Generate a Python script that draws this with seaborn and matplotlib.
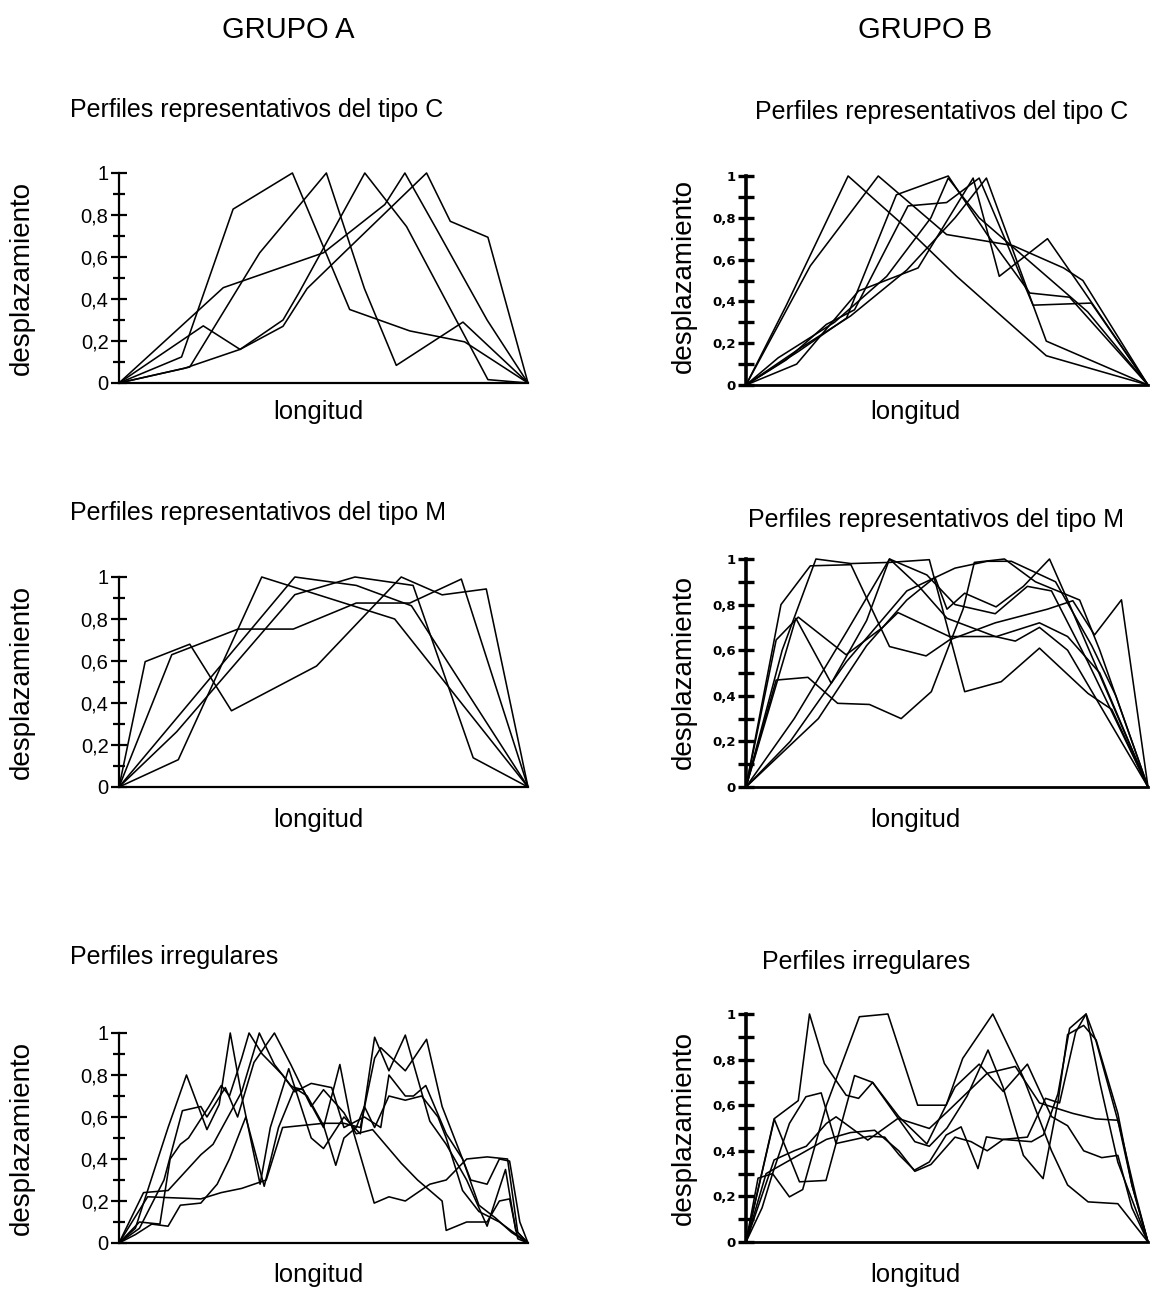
import pandas as pd
import matplotlib
matplotlib.use('Agg')
import matplotlib.pyplot as plt
import seaborn as sns
from matplotlib.ticker import MultipleLocator, FuncFormatter

sns.set_style("white")
plt.rcParams['font.family'] = ['Liberation Sans', 'DejaVu Sans']
plt.rcParams['text.color'] = 'black'
plt.rcParams['ytick.color'] = 'black'
plt.rcParams['ytick.labelcolor'] = 'black'

# --- profile data: each profile is a list of (longitud, desplazamiento) ---
grupo_a_tipo_c = [
    [(0, 0), (0.153, 0.124), (0.279, 0.828), (0.424, 1.0), (0.564, 0.35), (0.711, 0.248), (0.845, 0.196), (1, 0)],
    [(0, 0), (0.173, 0.076), (0.344, 0.62), (0.507, 1.0), (0.60, 0.45), (0.678, 0.084), (0.841, 0.29), (1, 0)],
    [(0, 0), (0.206, 0.272), (0.296, 0.16), (0.401, 0.30), (0.44, 0.43), (0.601, 1.0), (0.703, 0.745), (0.902, 0.016), (1, 0)],
    [(0, 0), (0.255, 0.454), (0.50, 0.62), (0.65, 0.85), (0.699, 1.0), (0.78, 0.72), (0.90, 0.30), (1, 0)],
    [(0, 0), (0.16, 0.07), (0.296, 0.16), (0.401, 0.27), (0.46, 0.45), (0.55, 0.62), (0.752, 1.0), (0.81, 0.77), (0.902, 0.694), (1, 0)],
]

grupo_b_tipo_c = [
    [(0, 0), (0.10, 0.38), (0.254, 1.0), (0.40, 0.75), (0.524, 0.52), (0.747, 0.14), (1, 0)],
    [(0, 0), (0.16, 0.57), (0.329, 1.0), (0.499, 0.72), (0.664, 0.667), (0.79, 0.56), (0.838, 0.50), (1, 0)],
    [(0, 0), (0.126, 0.10), (0.28, 0.45), (0.428, 0.56), (0.565, 0.99), (0.63, 0.52), (0.75, 0.70), (0.84, 0.45), (1, 0)],
    [(0, 0), (0.13, 0.16), (0.25, 0.32), (0.374, 0.91), (0.503, 1.0), (0.60, 0.72), (0.706, 0.44), (0.805, 0.42), (1, 0)],
    [(0, 0), (0.10, 0.12), (0.20, 0.29), (0.27, 0.36), (0.403, 0.857), (0.499, 0.873), (0.58, 0.99), (0.714, 0.382), (0.859, 0.392), (1, 0)],
    [(0, 0), (0.13, 0.17), (0.26, 0.33), (0.40, 0.55), (0.52, 0.80), (0.598, 0.99), (0.747, 0.21), (1, 0)],
    [(0, 0), (0.08, 0.13), (0.22, 0.30), (0.35, 0.52), (0.46, 0.80), (0.503, 0.99), (0.58, 0.80), (0.70, 0.60), (0.85, 0.35), (1, 0)],
]

grupo_a_tipo_m = [
    [(0, 0), (0.064, 0.597), (0.173, 0.68), (0.275, 0.363), (0.483, 0.576), (0.69, 1.0), (0.79, 0.915), (0.898, 0.943), (1, 0)],
    [(0, 0), (0.129, 0.63), (0.291, 0.752), (0.426, 0.752), (0.58, 0.876), (0.711, 0.876), (0.837, 0.99), (1, 0)],
    [(0, 0), (0.145, 0.13), (0.349, 1.0), (0.674, 0.80), (1, 0)],
    [(0, 0), (0.141, 0.263), (0.43, 0.916), (0.577, 1.0), (0.719, 0.96), (0.866, 0.139), (1, 0)],
    [(0, 0), (0.43, 1.0), (0.58, 0.96), (0.715, 0.863), (1, 0)],
]

grupo_b_tipo_m = [
    [(0, 0), (0.075, 0.469), (0.154, 0.481), (0.228, 0.367), (0.307, 0.362), (0.386, 0.30), (0.461, 0.418), (0.54, 0.78),
     (0.568, 0.985), (0.643, 1.0), (0.72, 0.90), (0.83, 0.82), (0.88, 0.60), (1, 0)],
    [(0, 0), (0.09, 0.60), (0.174, 1.0), (0.261, 0.98), (0.357, 0.985), (0.456, 0.997), (0.544, 0.418), (0.635, 0.462),
     (0.73, 0.609), (0.851, 0.41), (0.91, 0.34), (1, 0)],
    [(0, 0), (0.087, 0.80), (0.16, 0.97), (0.261, 0.975), (0.357, 0.616), (0.448, 0.575), (0.506, 0.645), (0.62, 0.72),
     (0.75, 0.78), (0.813, 0.817), (0.867, 0.667), (0.934, 0.821), (1, 0)],
    [(0, 0), (0.124, 0.74), (0.212, 0.455), (0.30, 0.73), (0.357, 1.0), (0.43, 0.88), (0.50, 0.74), (0.62, 0.66),
     (0.67, 0.64), (0.73, 0.70), (0.80, 0.60), (1, 0)],
    [(0, 0), (0.075, 0.645), (0.13, 0.745), (0.249, 0.58), (0.34, 0.70), (0.378, 0.765), (0.506, 0.66), (0.623, 0.66),
     (0.73, 0.72), (0.80, 0.66), (0.88, 0.50), (1, 0)],
    [(0, 0), (0.12, 0.30), (0.25, 0.68), (0.357, 1.0), (0.45, 0.93), (0.52, 0.80), (0.62, 0.76), (0.70, 0.88),
     (0.76, 0.86), (0.85, 0.55), (1, 0)],
    [(0, 0), (0.18, 0.30), (0.30, 0.62), (0.40, 0.82), (0.47, 0.92), (0.50, 0.78), (0.544, 0.85), (0.622, 0.79),
     (0.69, 0.88), (0.755, 1.0), (0.80, 0.82), (1, 0)],
    [(0, 0), (0.11, 0.20), (0.25, 0.55), (0.40, 0.86), (0.52, 0.96), (0.60, 0.99), (0.66, 0.99), (0.77, 0.90),
     (0.86, 0.62), (0.92, 0.40), (1, 0)],
]

grupo_a_irregular = [
    [(0, 0), (0.04, 0.07), (0.12, 0.55), (0.165, 0.80), (0.215, 0.54), (0.245, 0.66), (0.272, 1.0), (0.30, 0.70),
     (0.345, 0.28), (0.37, 0.55), (0.415, 0.83), (0.47, 0.50), (0.50, 0.45), (0.55, 0.60), (0.59, 0.52), (0.625, 0.98),
     (0.66, 0.82), (0.70, 0.99), (0.76, 0.58), (0.80, 0.47), (0.85, 0.30), (0.90, 0.08), (0.945, 0.35), (0.97, 0.06), (1, 0)],
    [(0, 0), (0.05, 0.10), (0.10, 0.09), (0.125, 0.40), (0.15, 0.47), (0.17, 0.50), (0.22, 0.65), (0.25, 0.75),
     (0.27, 0.70), (0.30, 0.88), (0.318, 1.0), (0.35, 0.90), (0.40, 0.80), (0.43, 0.72), (0.47, 0.76), (0.52, 0.74),
     (0.55, 0.55), (0.60, 0.60), (0.64, 0.55), (0.66, 0.80), (0.70, 0.70), (0.72, 0.70), (0.75, 0.75), (0.80, 0.52),
     (0.84, 0.40), (0.88, 0.18), (0.92, 0.12), (0.96, 0.05), (1, 0)],
    [(0, 0), (0.06, 0.24), (0.12, 0.25), (0.20, 0.42), (0.23, 0.47), (0.30, 0.72), (0.343, 1.0), (0.38, 0.85),
     (0.42, 0.75), (0.46, 0.70), (0.50, 0.56), (0.53, 0.37), (0.55, 0.50), (0.58, 0.55), (0.60, 0.65), (0.625, 0.55),
     (0.66, 0.70), (0.70, 0.68), (0.74, 0.70), (0.78, 0.60), (0.80, 0.50), (0.84, 0.25), (0.88, 0.15), (0.93, 0.10), (1, 0)],
    [(0, 0), (0.07, 0.22), (0.20, 0.21), (0.25, 0.24), (0.30, 0.26), (0.36, 0.30), (0.40, 0.55), (0.45, 0.56),
     (0.50, 0.57), (0.55, 0.57), (0.59, 0.55), (0.625, 0.88), (0.64, 0.93), (0.70, 0.82), (0.752, 0.97), (0.79, 0.65),
     (0.82, 0.50), (0.86, 0.30), (0.90, 0.28), (0.93, 0.40), (0.955, 0.39), (0.98, 0.10), (1, 0)],
    [(0, 0), (0.04, 0.04), (0.08, 0.09), (0.12, 0.08), (0.15, 0.18), (0.20, 0.19), (0.24, 0.28), (0.27, 0.40),
     (0.31, 0.60), (0.355, 0.27), (0.39, 0.55), (0.43, 0.74), (0.45, 0.73), (0.50, 0.55), (0.52, 0.70), (0.54, 0.85),
     (0.57, 0.55), (0.624, 0.19), (0.66, 0.22), (0.70, 0.20), (0.76, 0.28), (0.80, 0.30), (0.85, 0.40), (0.90, 0.41),
     (0.95, 0.40), (0.975, 0.05), (1, 0)],
    [(0, 0), (0.05, 0.07), (0.11, 0.30), (0.155, 0.63), (0.20, 0.65), (0.215, 0.60), (0.26, 0.74), (0.29, 0.60),
     (0.33, 0.86), (0.38, 1.0), (0.42, 0.85), (0.47, 0.65), (0.50, 0.73), (0.55, 0.62), (0.58, 0.52), (0.62, 0.54),
     (0.69, 0.38), (0.73, 0.30), (0.79, 0.20), (0.80, 0.06), (0.85, 0.10), (0.90, 0.10), (0.93, 0.20), (0.955, 0.21),
     (0.975, 0.02), (1, 0)],
]

grupo_b_irregular = [
    [(0, 0), (0.071, 0.542), (0.13, 0.62), (0.158, 1.0), (0.195, 0.783), (0.249, 0.644), (0.28, 0.63), (0.315, 0.70),
     (0.382, 0.534), (0.42, 0.44), (0.456, 0.42), (0.50, 0.50), (0.55, 0.64), (0.602, 0.842), (0.639, 0.681),
     (0.69, 0.38), (0.739, 0.278), (0.776, 0.615), (0.80, 0.91), (0.84, 0.95), (0.871, 0.886), (0.925, 0.564),
     (0.96, 0.25), (1, 0)],
    [(0, 0), (0.03, 0.28), (0.066, 0.30), (0.108, 0.52), (0.149, 0.637), (0.187, 0.654), (0.224, 0.432), (0.307, 0.464),
     (0.345, 0.46), (0.382, 0.38), (0.419, 0.315), (0.456, 0.351), (0.498, 0.469), (0.535, 0.505), (0.577, 0.322),
     (0.598, 0.461), (0.639, 0.45), (0.71, 0.44), (0.74, 0.47), (0.776, 0.65), (0.805, 0.937), (0.846, 1.0),
     (0.88, 0.70), (0.925, 0.35), (1, 0)],
    [(0, 0), (0.07, 0.54), (0.133, 0.264), (0.199, 0.27), (0.27, 0.73), (0.315, 0.70), (0.38, 0.55), (0.45, 0.43),
     (0.52, 0.68), (0.58, 0.78), (0.64, 0.66), (0.70, 0.78), (0.76, 0.55), (0.80, 0.51), (0.84, 0.40), (0.885, 0.37),
     (0.925, 0.38), (0.96, 0.15), (1, 0)],
    [(0, 0), (0.04, 0.15), (0.066, 0.30), (0.108, 0.198), (0.141, 0.23), (0.20, 0.60), (0.282, 0.988), (0.353, 1.0),
     (0.427, 0.60), (0.498, 0.60), (0.539, 0.805), (0.614, 1.0), (0.689, 0.725), (0.76, 0.40), (0.80, 0.25),
     (0.851, 0.176), (0.925, 0.168), (1, 0)],
    [(0, 0), (0.07, 0.36), (0.12, 0.40), (0.15, 0.42), (0.20, 0.52), (0.224, 0.549), (0.303, 0.447), (0.378, 0.542),
     (0.456, 0.498), (0.50, 0.57), (0.60, 0.74), (0.67, 0.77), (0.73, 0.61), (0.813, 0.564), (0.87, 0.54),
     (0.925, 0.534), (0.96, 0.25), (1, 0)],
    [(0, 0), (0.05, 0.30), (0.10, 0.35), (0.20, 0.45), (0.26, 0.48), (0.32, 0.49), (0.38, 0.40), (0.42, 0.31),
     (0.46, 0.34), (0.52, 0.46), (0.56, 0.44), (0.60, 0.40), (0.64, 0.45), (0.70, 0.46), (0.745, 0.63), (0.78, 0.61),
     (0.82, 0.92), (0.846, 1.0), (0.871, 0.88), (0.93, 0.50), (0.97, 0.20), (1, 0)],
]

titulos = ["Perfiles representativos del tipo C", "Perfiles representativos del tipo M", "Perfiles irregulares"]

W, H = 1155, 1290
fig = plt.figure(figsize=(W / 100, H / 100), dpi=100)


def to_frame(perfiles):
    rows = []
    for i, pts in enumerate(perfiles):
        for x, y in pts:
            rows.append({'perfil': i, 'longitud': x, 'desplazamiento': y})
    return pd.DataFrame(rows)


def comma_fmt(v, pos):
    if abs(v) < 1e-9:
        return '0'
    if abs(v - 1) < 1e-9:
        return '1'
    return f'{v:.1f}'.replace('.', ',')


def panel(perfiles, left, right, top, bottom, style):
    ax = fig.add_axes([left / W, 1 - bottom / H, (right - left) / W, (bottom - top) / H])
    sns.lineplot(data=to_frame(perfiles), x='longitud', y='desplazamiento', units='perfil',
                 estimator=None, sort=False, color='black', linewidth=1.15, ax=ax, legend=False)
    for ln in ax.lines:
        ln.set_clip_on(False)
    ax.set_xlim(0, 1)
    ax.set_ylim(0, 1)
    ax.set_xlabel('')
    ax.set_ylabel('')
    ax.set_xticks([])
    for s in ['top', 'right']:
        ax.spines[s].set_visible(False)
    ax.yaxis.set_major_locator(MultipleLocator(0.2))
    ax.yaxis.set_minor_locator(MultipleLocator(0.1))
    ax.yaxis.set_major_formatter(FuncFormatter(comma_fmt))
    if style == 'A':
        ax.spines['left'].set_linewidth(1.6)
        ax.spines['bottom'].set_linewidth(1.6)
        ax.tick_params(axis='y', which='both', left=True, direction='inout', width=1.6, color='black')
        ax.tick_params(axis='y', which='major', length=11, labelsize=14.5, pad=2, labelcolor='black')
        ax.tick_params(axis='y', which='minor', length=9)
    else:
        ax.spines['left'].set_linewidth(2.6)
        ax.spines['bottom'].set_linewidth(2.0)
        ax.tick_params(axis='y', which='both', left=True, direction='inout', width=2.4, color='black', length=11)
        ax.tick_params(axis='y', which='major', labelsize=9.5, pad=2, labelcolor='black')
        for t in ax.get_yticklabels():
            t.set_fontfamily('DejaVu Sans')
            t.set_fontweight('bold')
    ax.spines['left'].set_color('black')
    ax.spines['bottom'].set_color('black')
    ax.patch.set_alpha(0)
    return ax


def ftext(x, y, s, **kw):
    fig.text(x / W, 1 - y / H, s, color='black', **kw)


# column headers
ftext(288, 30, 'GRUPO A', ha='center', va='center', fontsize=21)
ftext(925, 30, 'GRUPO B', ha='center', va='center', fontsize=21)

panel(grupo_a_tipo_c, 119, 528, 173, 383, 'A')
panel(grupo_b_tipo_c, 746, 1148, 176, 385, 'B')
panel(grupo_a_tipo_m, 119, 528, 577, 787, 'A')
panel(grupo_b_tipo_m, 746, 1148, 559, 787, 'B')
panel(grupo_a_irregular, 119, 528, 1033, 1243, 'A')
panel(grupo_b_irregular, 746, 1148, 1014, 1242, 'B')

# subtitles
ftext(70, 110, titulos[0], ha='left', va='center', fontsize=18)
ftext(755, 112, titulos[0], ha='left', va='center', fontsize=18)
ftext(70, 513, titulos[1], ha='left', va='center', fontsize=18)
ftext(748, 520, titulos[1], ha='left', va='center', fontsize=18)
ftext(70, 957, titulos[2], ha='left', va='center', fontsize=18)
ftext(762, 962, titulos[2], ha='left', va='center', fontsize=18)

# axis labels
for y in [412, 820, 1275]:
    ftext(318, y, 'longitud', ha='center', va='center', fontsize=18.5)
    ftext(915, y, 'longitud', ha='center', va='center', fontsize=18.5)
for y in [278, 682, 1138]:
    ftext(22, y, 'desplazamiento', ha='center', va='center', rotation=90, fontsize=20)
for y in [276, 672, 1128]:
    ftext(684, y, 'desplazamiento', ha='center', va='center', rotation=90, fontsize=20)

fig.savefig('out.png', dpi=100)
